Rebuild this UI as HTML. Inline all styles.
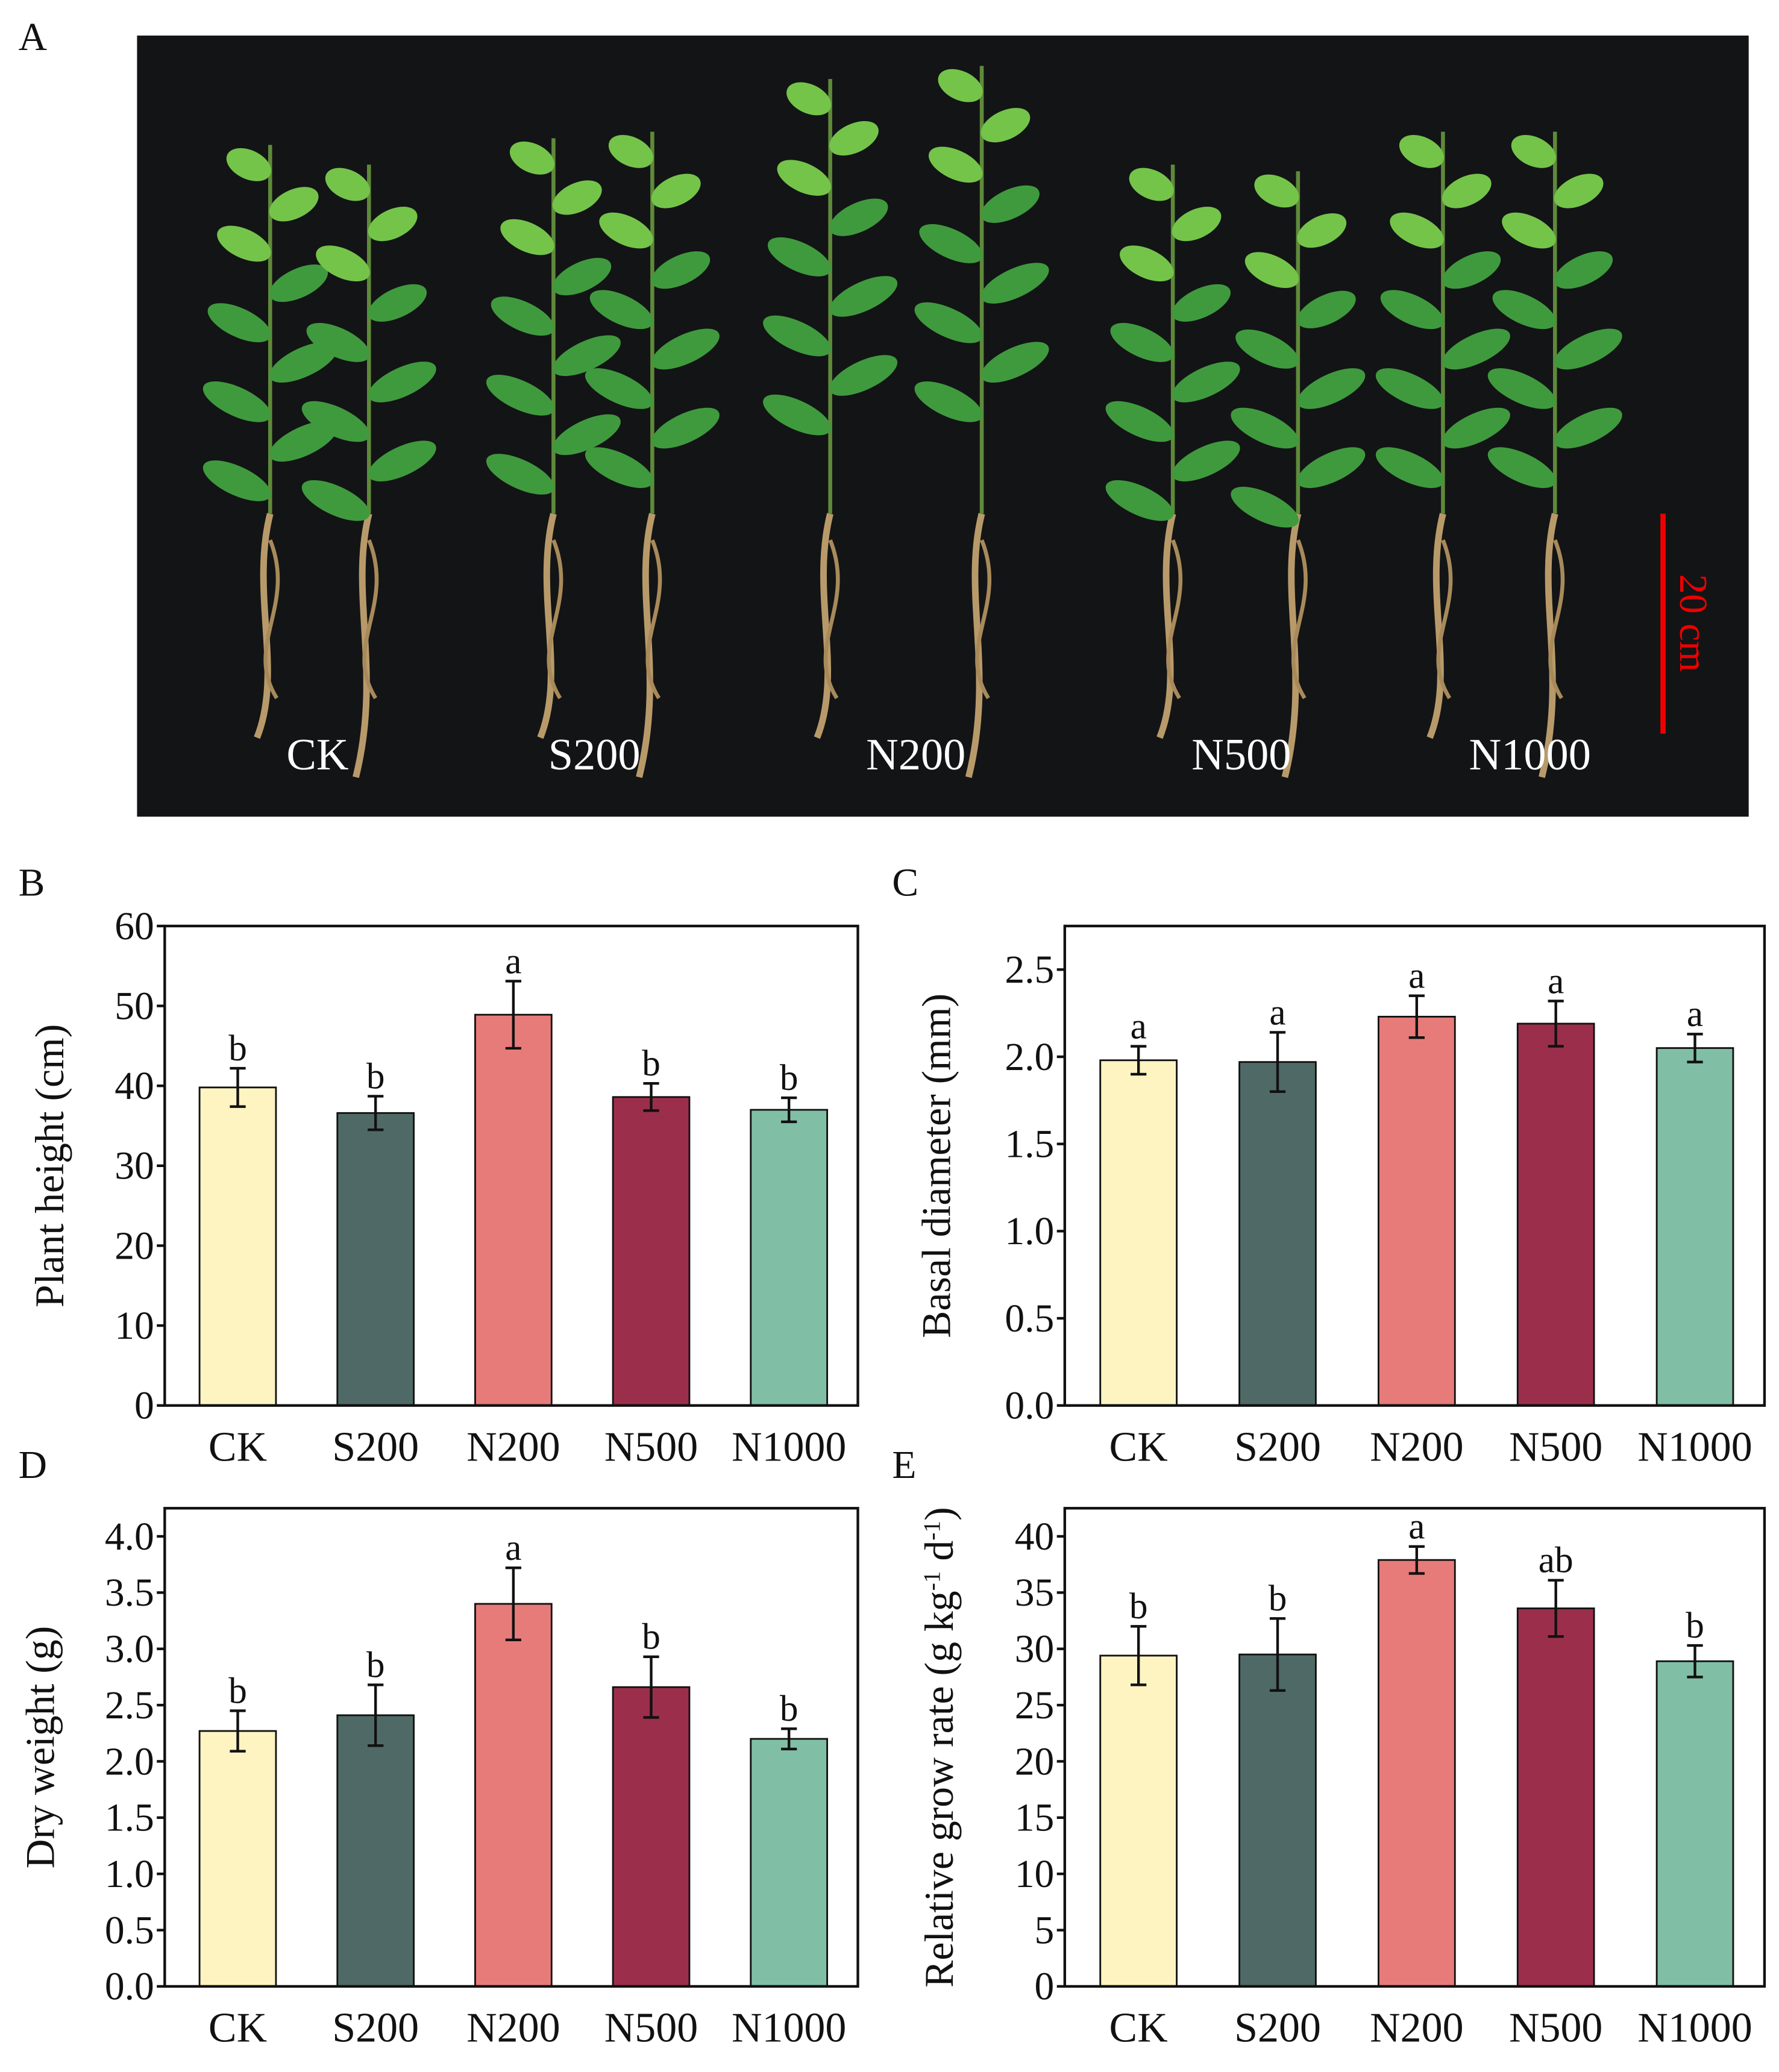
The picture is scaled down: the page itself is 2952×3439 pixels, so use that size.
<!DOCTYPE html>
<html><head><meta charset="utf-8"><style>
html,body{margin:0;padding:0;background:#fff}
svg{display:block}
text{font-family:"Liberation Serif",serif;fill:#111}
</style></head><body>
<svg id="fig" xmlns="http://www.w3.org/2000/svg" width="2952" height="3439" viewBox="0 0 1350 1573" preserveAspectRatio="none">
<rect x="0" y="0" width="1350" height="1573" fill="#fff"/>
<text x="14" y="38" font-size="30">A</text>
<g id="photo">
<rect x="104" y="27" width="1223" height="593" fill="#131416"/>
</g>
<text x="14" y="680" font-size="30">B</text>
<text x="677" y="680" font-size="30">C</text>
<text x="14" y="1122" font-size="30">D</text>
<text x="677" y="1122" font-size="30">E</text>
<g id="charts"></g>
</svg>
<script>
const categories=["CK","S200","N200","N500","N1000"];
const colors=["#fdf4c2","#4f6a66","#e77b7a","#9b2f4b","#80bfa5"];
const heightVals=[39.8,36.6,48.9,38.6,37.0];
const heightErr=[2.4,2.1,4.2,1.7,1.5];
const heightSig=["b","b","a","b","b"];
const heightTicks=[0,10,20,30,40,50,60];
const diamVals=[1.98,1.97,2.23,2.19,2.05];
const diamErr=[0.08,0.17,0.12,0.13,0.08];
const diamSig=["a","a","a","a","a"];
const diamTicks=["0.0","0.5","1.0","1.5","2.0","2.5"];
const dryVals=[2.27,2.41,3.40,2.66,2.20];
const dryErr=[0.18,0.27,0.32,0.27,0.09];
const drySig=["b","b","a","b","b"];
const dryTicks=["0.0","0.5","1.0","1.5","2.0","2.5","3.0","3.5","4.0"];
const rgrVals=[29.4,29.5,37.9,33.6,28.9];
const rgrErr=[2.6,3.2,1.2,2.5,1.4];
const rgrSig=["b","b","a","ab","b"];
const rgrTicks=[0,5,10,15,20,25,30,35,40];
const NS="http://www.w3.org/2000/svg";
function mk(tag,attrs,parent){const e=document.createElementNS(NS,tag);for(const k in attrs)e.setAttribute(k,attrs[k]);parent.appendChild(e);return e;}

const photo=document.getElementById('photo');
const plants=[[205,110],[280,125],[420,105],[495,100],[630,60],[745,50],[890,125],[985,130],[1095,100],[1180,100]];
plants.forEach((p,i)=>{
  const [cx,top]=p;
  const rootTop=390;
  mk('path',{d:`M${cx} ${rootTop} C ${cx-15} ${rootTop+60} ${cx+10} ${rootTop+120} ${cx-10} ${rootTop+170+(i%2)*30}`,stroke:'#b89a6a','stroke-width':5,fill:'none'},photo);
  mk('path',{d:`M${cx} ${rootTop+20} C ${cx+20} ${rootTop+70} ${cx-20} ${rootTop+100} ${cx+5} ${rootTop+140}`,stroke:'#a88a5a','stroke-width':3,fill:'none'},photo);
  mk('line',{x1:cx,y1:top,x2:cx,y2:rootTop,stroke:'#5f8a3a','stroke-width':3},photo);
  for(let j=0;j<9;j++){
    const y=top+15+j*30;
    const side=j%2?1:-1;
    const w=18+ (j<6?j*2:10);
    mk('ellipse',{cx:cx+side*w*0.9,cy:y,rx:w,ry:11,fill:j<3?'#74c44a':'#3f9a3e',transform:`rotate(${side*-25} ${cx+side*w*0.9} ${y})`},photo);
  }
});
[[241,"CK"],[451,"S200"],[695,"N200"],[942,"N500"],[1161,"N1000"]].forEach(([x,t])=>{
  const e=mk('text',{x:x,y:584,'font-size':34,'text-anchor':'middle',style:'fill:#fff'},photo);e.textContent=t;
  
  
});
mk('line',{x1:1262,y1:390,x2:1262,y2:557,stroke:'#e00','stroke-width':4},photo);
const sb=mk('text',{x:1275,y:473,'font-size':30,'text-anchor':'middle',transform:'rotate(90 1275 473)',style:'fill:#e00'},photo);
sb.textContent="20 cm";



function chart(opt){
  const g=mk('g',{},document.getElementById('charts'));
  
  
  const {x0,x1,y0,y1,max,vals,errs,sigs,ticks}=opt;
  const ys=v=>y0-(v/max)*(y0-y1);
  const step=(x1-x0)/5.03;
  const xs=i=>x0+step*(i+0.53);
  vals.forEach((v,i)=>{
    const b=mk('rect',{x:xs(i)-29,y:ys(v),width:58,height:y0-ys(v),fill:colors[i],stroke:'#111','stroke-width':1.3},g);
    
    
    const t=ys(v+errs[i]),bt=ys(v-errs[i]);
    mk('line',{x1:xs(i),y1:t,x2:xs(i),y2:bt,stroke:'#111','stroke-width':2},g);
    mk('line',{x1:xs(i)-6,y1:t,x2:xs(i)+6,y2:t,stroke:'#111','stroke-width':2},g);
    mk('line',{x1:xs(i)-6,y1:bt,x2:xs(i)+6,y2:bt,stroke:'#111','stroke-width':2},g);
    const s=mk('text',{x:xs(i),y:t-6,'font-size':28,'text-anchor':'middle'},g);s.textContent=sigs[i];
    
    
    const xl=mk('text',{x:xs(i),y:y0+42,'font-size':32,'text-anchor':'middle'},g);xl.textContent=categories[i];
    
    
  });
  mk('rect',{x:x0,y:y1,width:x1-x0,height:y0-y1,fill:'none',stroke:'#111','stroke-width':2},g);
  ticks.forEach(tk=>{
    const y=ys(parseFloat(tk));
    mk('line',{x1:x0-6,y1:y,x2:x0,y2:y,stroke:'#111','stroke-width':2},g);
    const tl=mk('text',{x:x0-8,y:y+10,'font-size':30,'text-anchor':'end'},g);tl.textContent=tk;
    
    
  });
  const yt=mk('text',{x:opt.tx,y:(y0+y1)/2,'font-size':31,'text-anchor':'middle',transform:`rotate(-90 ${opt.tx} ${(y0+y1)/2})`},g);
  yt.innerHTML=opt.title;
  
  
}
chart({name:'plant-height-chart',x0:125,x1:651,y0:1067,y1:703,max:60,vals:heightVals,errs:heightErr,sigs:heightSig,ticks:heightTicks,tx:48,title:'Plant height (cm)'});
chart({name:'basal-diameter-chart',x0:808,x1:1339,y0:1067,y1:703,max:2.75,vals:diamVals,errs:diamErr,sigs:diamSig,ticks:diamTicks,tx:721,title:'Basal diameter (mm)'});
chart({name:'dry-weight-chart',x0:125,x1:651,y0:1508,y1:1145,max:4.25,vals:dryVals,errs:dryErr,sigs:drySig,ticks:dryTicks,tx:41,title:'Dry weight (g)'});
chart({name:'relative-growth-rate-chart',x0:808,x1:1339,y0:1508,y1:1145,max:42.5,vals:rgrVals,errs:rgrErr,sigs:rgrSig,ticks:rgrTicks,tx:723,title:'Relative grow rate (g kg<tspan font-size="18" dy="-10">-1</tspan><tspan dy="10"> d</tspan><tspan font-size="18" dy="-10">-1</tspan><tspan dy="10">)</tspan>'});
</script>
</body></html>
